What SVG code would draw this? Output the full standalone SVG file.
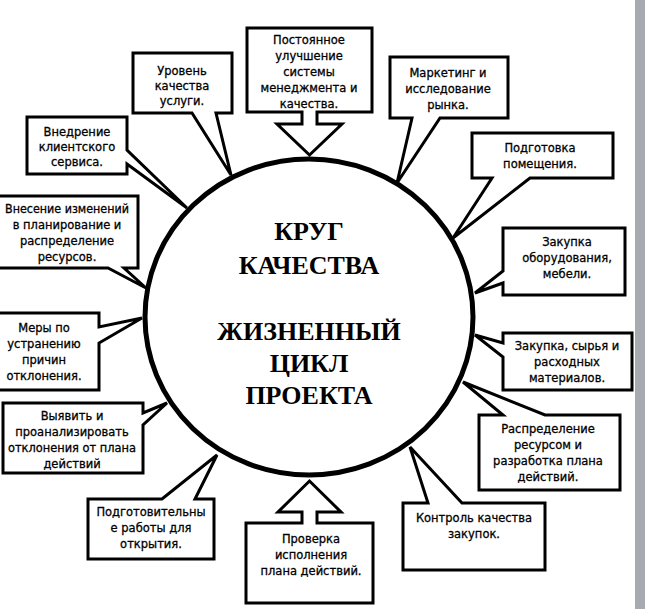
<svg xmlns="http://www.w3.org/2000/svg" width="645" height="609" viewBox="0 0 645 609">
<style>
.box{fill:#fff;stroke:#000;stroke-width:3;stroke-linejoin:miter}
.t{font-family:"DejaVu Sans","Liberation Sans",sans-serif;font-size:11.5px;fill:#000;stroke:#000;stroke-width:0.3;text-anchor:middle}
.c{font-family:"Liberation Serif","Times New Roman",serif;font-size:26px;font-weight:bold;fill:#000;text-anchor:middle}
</style>
<rect width="645" height="609" fill="#fff"/>
<rect x="635" y="0" width="10" height="609" fill="#a7abb0"/>
<g id="connectors">
<ellipse cx="309" cy="317" rx="164" ry="158" fill="#fff" stroke="#000" stroke-width="5"/>
</g>
<g id="center">
<text class="c" x="309" y="240">КРУГ</text>
<text class="c" x="309" y="274">КАЧЕСТВА</text>
<text class="c" x="309" y="340">ЖИЗНЕННЫЙ</text>
<text class="c" x="309" y="372">ЦИКЛ</text>
<text class="c" x="309" y="404">ПРОЕКТА</text>
</g>
<g id="n1">
<path class="box" d="M133,53 H232 V113 H216 L231,175 L192,113 H133 Z"/>
<text class="t" x="182" y="75">Уровень</text>
<text class="t" x="182" y="90">качества</text>
<text class="t" x="182" y="105">услуги.</text>
</g>
<g id="n2">
<path class="box" d="M247,28 H372 V112 H317 V124 H342 L309.5,155 L277,124 H302 V112 H247 Z"/>
<text class="t" x="309" y="44">Постоянное</text>
<text class="t" x="309" y="60">улучшение</text>
<text class="t" x="309" y="76">системы</text>
<text class="t" x="309" y="92">менеджмента и</text>
<text class="t" x="309" y="108">качества.</text>
</g>
<g id="n3">
<path class="box" d="M390,57 H508 V118 H440 L397,183 L412,118 H390 Z"/>
<text class="t" x="448" y="77">Маркетинг и</text>
<text class="t" x="448" y="93">исследование</text>
<text class="t" x="448" y="109">рынка.</text>
</g>
<g id="n4">
<path class="box" d="M472,133 H613 V178 H530 L453,238 L492,178 H472 Z"/>
<text class="t" x="540" y="152">Подготовка</text>
<text class="t" x="540" y="168">помещения.</text>
</g>
<g id="n5">
<path class="box" d="M503,228 H625 V295 H503 V283 L475,293 L503,271 Z"/>
<text class="t" x="567" y="246">Закупка</text>
<text class="t" x="567" y="262">оборудования,</text>
<text class="t" x="567" y="278">мебели.</text>
</g>
<g id="n6">
<path class="box" d="M503,333 H632 V390 H503 V357 L475,335 L503,343 Z"/>
<text class="t" x="567" y="350">Закупка, сырья и</text>
<text class="t" x="567" y="366">расходных</text>
<text class="t" x="567" y="382">материалов.</text>
</g>
<g id="n7">
<path class="box" d="M479,415 H503 L463,382 L545,415 H620 V490 H479 Z"/>
<text class="t" x="548" y="433">Распределение</text>
<text class="t" x="548" y="449">ресурсом и</text>
<text class="t" x="548" y="465">разработка плана</text>
<text class="t" x="548" y="481">действий.</text>
</g>
<g id="n8">
<path class="box" d="M403,503 H428 L410,447 L462,503 H545 V570 H403 Z"/>
<text class="t" x="474" y="522">Контроль качества</text>
<text class="t" x="474" y="538">закупок.</text>
</g>
<g id="n9">
<path class="box" d="M246,523 H302 V512 H278 L309.5,481 L341,512 H317 V523 H373 V603 H246 Z"/>
<text class="t" x="311" y="543">Проверка</text>
<text class="t" x="311" y="559">исполнения</text>
<text class="t" x="311" y="575">плана действий.</text>
</g>
<g id="n10">
<path class="box" d="M88,499 H162 L217,455 L195,499 H214 V559 H88 Z"/>
<text class="t" x="151" y="516">Подготовительны</text>
<text class="t" x="151" y="532">е работы для</text>
<text class="t" x="151" y="548">открытия.</text>
</g>
<g id="n11">
<path class="box" d="M3,403 H143 V413 L167,403 L143,425 V473 H3 Z"/>
<text class="t" x="72" y="420">Выявить и</text>
<text class="t" x="72" y="436">проанализировать</text>
<text class="t" x="72" y="452" textLength="128" lengthAdjust="spacingAndGlyphs">отклонения от плана</text>
<text class="t" x="72" y="468">действий</text>
</g>
<g id="n12">
<path class="box" d="M-10,313 H99 V327 L142,318 L99,343 V390 H-10 Z"/>
<text class="t" x="44" y="332">Меры по</text>
<text class="t" x="44" y="348">устранению</text>
<text class="t" x="44" y="364">причин</text>
<text class="t" x="44" y="380">отклонения.</text>
</g>
<g id="n13">
<path class="box" d="M-10,196 H138 V268 H124 L146,288 L108,268 H-10 Z"/>
<text class="t" x="67" y="213" textLength="124" lengthAdjust="spacingAndGlyphs">Внесение изменений</text>
<text class="t" x="67" y="229">в планирование и</text>
<text class="t" x="67" y="245">распределение</text>
<text class="t" x="67" y="261">ресурсов.</text>
</g>
<g id="n14">
<path class="box" d="M27,117 H127 V150 L187,208 L127,164 V174 H27 Z"/>
<text class="t" x="77" y="136">Внедрение</text>
<text class="t" x="77" y="151">клиентского</text>
<text class="t" x="77" y="166">сервиса.</text>
</g>
</svg>
